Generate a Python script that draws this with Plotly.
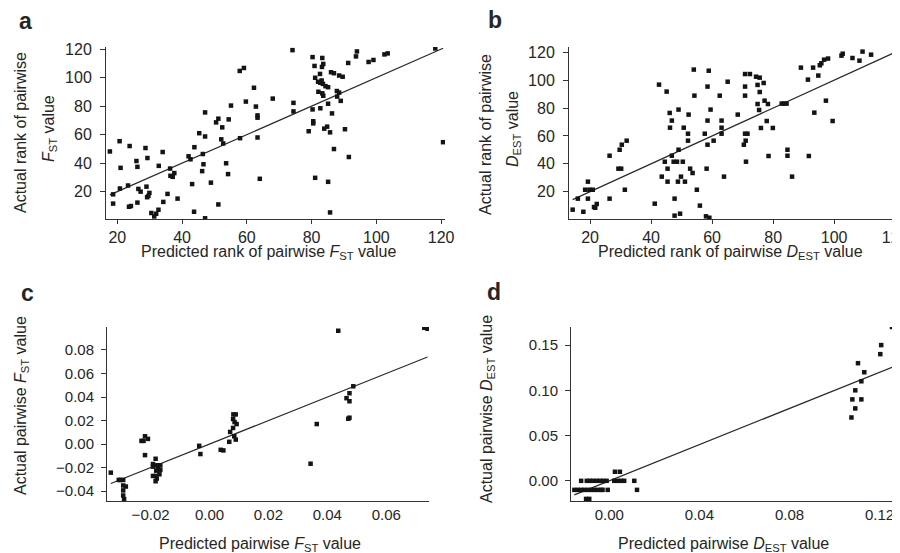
import plotly.graph_objects as go

# ---------------- data ----------------
a_pred = [17.7, 20.7, 21.0, 18.7, 18.7, 20.8, 23.3, 23.8, 23.6, 24.2, 25.9, 26.2, 26.5, 27.2, 26.2, 28.7, 29.3, 29.0, 29.2, 29.6,
          29.9, 30.5, 31.4, 32.0, 32.7, 32.8, 34.0, 34.2, 35.5, 36.3, 36.4, 37.1, 37.6, 38.6, 42.0, 42.6, 43.1, 43.7, 43.8, 45.3,
          46.4, 46.6, 46.2, 47.1, 47.1, 47.1, 48.9, 50.5, 51.2, 51.2, 52.1, 52.4, 52.7, 53.6, 54.2, 54.4, 55.1, 57.9, 57.8, 59.1,
          59.7, 62.2, 62.8, 63.3, 63.3, 63.3, 64.0, 68.0,
          74.1, 74.4, 74.4, 79.1, 80.3, 80.3, 80.5, 80.5, 80.9, 81.1, 81.1, 82.1, 82.0, 82.6, 82.7, 82.7, 83.1, 83.3, 83.2, 83.6,
          83.3, 83.6, 83.5, 83.9, 84.3, 84.8, 85.1, 85.1, 85.1, 85.7, 85.7, 86.0, 86.3, 86.9, 86.9, 87.8, 87.9, 88.5, 88.5, 89.0,
          89.6, 90.3, 91.3, 91.5, 93.7, 94.0, 97.6, 99.1, 102.5, 103.5, 118.2, 120.6]
a_actual = [48.2, 55.4, 36.7, 18.1, 11.6, 22.2, 24.3, 52.0, 9.4, 9.9, 41.5, 37.4, 21.9, 20.0, 12.3, 50.6, 43.6, 23.5, 16.1, 17.0,
            19.1, 5.0, 2.6, 4.5, 7.3, 38.1, 47.8, 12.8, 18.4, 36.2, 31.1, 30.4, 33.0, 15.1, 44.8, 42.7, 25.3, 5.9, 51.2, 61.0,
            46.4, 39.2, 34.4, 75.6, 58.7, 1.3, 26.3, 68.6, 71.2, 11.0, 56.7, 65.1, 53.8, 39.9, 32.3, 70.7, 80.4, 57.5, 104.7, 106.8,
            83.2, 92.9, 79.7, 73.5, 71.9, 58.0, 29.0, 85.3,
            119.3, 82.3, 76.3, 62.4, 114.4, 77.7, 69.4, 67.9, 108.2, 99.9, 29.7, 90.1, 97.1, 102.6, 78.5, 96.4, 98.0, 113.8, 107.5, 109.6,
            89.0, 87.3, 95.6, 64.2, 94.0, 65.6, 26.9, 93.3, 81.7, 61.6, 5.4, 103.8, 74.9, 49.9, 103.1, 90.6, 86.7, 89.5, 101.5, 83.7,
            100.6, 63.8, 110.3, 44.3, 114.9, 118.4, 111.0, 112.4, 116.3, 117.0, 120.5, 54.7]

b_pred = [14.3, 16.0, 17.8, 18.4, 19.3, 19.3, 19.8, 20.9, 21.3, 21.7, 22.2, 26.4, 26.4, 29.3, 30.2, 29.7, 30.4, 31.4, 32.0, 41.2,
          42.6, 43.5, 44.5, 45.1, 45.4, 45.4, 46.1, 46.2, 46.8, 46.8, 47.4, 47.7, 48.5, 48.8, 49.0, 49.0, 49.5, 47.7, 49.8, 50.4,
          50.7, 51.1, 52.1, 52.1, 52.3, 52.8, 53.6, 54.0, 54.2, 55.0, 56.0, 57.6, 58.0, 58.2, 58.5, 58.5, 58.5, 58.9, 59.1, 59.5,
          60.5, 62.5, 63.1, 63.1, 63.1, 63.9, 65.1, 68.4,
          70.4, 70.8, 70.8, 70.8, 70.8, 71.0, 71.1, 71.6, 72.4, 74.4, 74.9, 74.9, 75.4, 75.6, 75.6, 76.0, 76.9, 77.2, 77.9, 78.3,
          78.5, 79.9, 82.8, 83.6, 84.4, 84.7, 84.7, 86.2, 89.1, 91.4, 91.7, 93.1, 93.5, 94.8, 95.3, 95.8, 96.7, 98.0, 97.3, 99.5,
          102.4, 102.8, 106.0, 108.3, 109.3, 112.1, 124.0]
b_actual = [7.1, 15.0, 5.6, 21.4, 27.2, 15.0, 21.4, 21.4, 9.0, 8.5, 11.2, 45.8, 15.0, 36.5, 36.5, 50.1, 53.7, 21.4, 56.6, 11.4,
            96.8, 30.8, 41.5, 91.8, 36.5, 27.2, 76.5, 65.9, 71.0, 45.8, 41.5, 15.0, 41.5, 27.2, 50.1, 78.9, 4.2, 2.8, 30.8, 41.5,
            65.9, 27.2, 61.6, 56.6, 75.3, 36.5, 33.4, 107.6, 88.9, 21.4, 10.0, 61.6, 2.3, 36.5, 95.4, 71.0, 53.7, 106.8, 1.3, 78.9,
            56.6, 88.9, 71.0, 65.9, 61.6, 30.8, 98.9, 75.3,
            53.7, 104.4, 95.4, 88.9, 61.6, 56.6, 41.5, 61.6, 104.4, 102.5, 96.6, 82.9, 78.6, 101.8, 91.5, 65.7, 98.0, 85.3, 70.7, 82.9,
            45.6, 65.7, 83.2, 83.2, 83.2, 50.1, 45.8, 30.8, 109.0, 100.4, 45.6, 109.0, 76.7, 103.3, 110.7, 112.1, 114.7, 115.5, 85.3, 70.7,
            117.6, 119.0, 115.9, 114.0, 120.5, 118.3, 93.7]

c_pred = [-0.0335, -0.0308, -0.0302, -0.0293, -0.0293, -0.0284, -0.0293, -0.0293, -0.0290,
          -0.0231, -0.0224, -0.0219, -0.0209, -0.0219, -0.0183, -0.0192, -0.0183, -0.0174, -0.0167, -0.0192,
          -0.0183, -0.0181, -0.0175, -0.0167, -0.0170, -0.0183, -0.0179, -0.0192,
          -0.0035, -0.0031,
          0.0038, 0.0047, 0.0067, 0.0070, 0.0080, 0.0080, 0.0081, 0.0089, 0.0085, 0.0092, 0.0084, 0.0089,
          0.0343, 0.0364, 0.0437, 0.0465, 0.0475, 0.0475, 0.0471, 0.0475, 0.0488,
          0.0729, 0.0740]
c_actual = [-0.0243, -0.0305, -0.0305, -0.0305, -0.0352, -0.0361, -0.0394, -0.0437, -0.0468,
            0.0027, 0.0027, 0.0066, 0.0044, -0.0094, -0.0125, -0.0170, -0.0181, -0.0181, -0.0181, -0.0271,
            -0.0271, -0.0226, -0.0212, -0.0220, -0.0257, -0.0316, -0.0293, -0.0192,
            -0.0015, -0.0085,
            -0.0049, -0.0054, 0.0019, 0.0103, 0.0137, 0.0213, 0.0252, 0.0252, 0.0187, 0.0170, 0.0066, 0.0038,
            -0.0167, 0.0170, 0.0963, 0.0390, 0.0432, 0.0364, 0.0215, 0.0224, 0.0491,
            0.0988, 0.0980]

d_pred = [-0.0155, -0.0140, -0.0125, -0.0111, -0.0096, -0.0081, -0.0066, -0.0052, -0.0037, -0.0030, -0.0007, 0.0123,
          -0.0125, -0.0100, -0.0086, -0.0071, -0.0056, -0.0041, -0.0027, -0.0012, 0.0022, 0.0037, 0.0052, 0.0066, 0.0111,
          0.0025, 0.0047,
          -0.0103, -0.0089,
          0.1255, 0.1207, 0.1203, 0.1104, 0.1132, 0.1119, 0.1092, 0.1079, 0.1119, 0.1092, 0.1075]
d_actual = [-0.01] * 12 + [0.00] * 13 + [0.01] * 2 + [-0.02] * 2 + \
           [0.17, 0.15, 0.14, 0.13, 0.12, 0.11, 0.10, 0.09, 0.09, 0.08, 0.07]

a_ticks = [20, 40, 60, 80, 100, 120]
c_xticks = [-0.02, 0.00, 0.02, 0.04, 0.06]
c_yticks = [-0.04, -0.02, 0.00, 0.02, 0.04, 0.06, 0.08]
d_xticks = [0.00, 0.02, 0.04, 0.06, 0.08, 0.10, 0.12]
d_xticktext = ["0.00", "", "0.04", "", "0.08", "", "0.12"]
d_yticks = [0.00, 0.05, 0.10, 0.15]
d_yticktext = ["0.00", "0.05", "0.10", "0.15"]

# ---------------- figure ----------------
W, H = 900, 553
FONT = "Liberation Sans, Arial, Helvetica, sans-serif"
TXT = "#262626"
MK = "#141414"
AX = "#333333"

panels = [
    ("", a_pred, a_actual),
    ("2", b_pred, b_actual),
    ("3", c_pred, c_actual),
    ("4", d_pred, d_actual),
]

fig = go.Figure()
for suf, xs, ys in panels:
    lo, hi = min(xs), max(xs)
    fig.add_trace(go.Scatter(x=[lo, hi], y=[lo, hi], mode="lines",
                             line=dict(color="#2a2a2a", width=1.2),
                             xaxis="x" + suf, yaxis="y" + suf, hoverinfo="skip"))
    fig.add_trace(go.Scatter(x=xs, y=ys, mode="markers",
                             marker=dict(symbol="square", size=4.5, color=MK, line=dict(width=0)),
                             xaxis="x" + suf, yaxis="y" + suf))


def px_dom(a, b, total):
    return [a / total, b / total]


def ydom(top, bottom):
    return [1 - bottom / H, 1 - top / H]


def ax(size, **kw):
    d = dict(showline=True, linecolor=AX, linewidth=1, ticks="outside", ticklen=5,
             tickcolor=AX, tickwidth=1, showgrid=False, zeroline=False,
             tickfont=dict(family=FONT, size=size, color=TXT), automargin=False,
             ticklabeloverflow="allow")
    d.update(kw)
    return d


dom_a = px_dom(98, 437, W)
dom_b = px_dom(561, 900, W)
dom_c = px_dom(99, 421, W)
dom_d = px_dom(563, 884, W)
rng_c = [-0.0348, 0.0745]
rng_d = [-0.0170, 0.1255]

fig.update_layout(
    width=W, height=H,
    margin=dict(l=0, r=0, t=0, b=0),
    paper_bgcolor="white", plot_bgcolor="white",
    showlegend=False,
    font=dict(family=FONT, color=TXT),
    xaxis=ax(16, domain=dom_a, range=[16.5, 121.2], tickvals=a_ticks, anchor="y", ticklen=4),
    yaxis=ax(16, domain=ydom(39, 211), range=[0.8, 121.5], tickvals=a_ticks, anchor="x", ticklabelstandoff=5),
    xaxis2=ax(16, domain=dom_b, range=[13.1, 124.2], tickvals=a_ticks, anchor="y2", ticklen=4),
    yaxis2=ax(16, domain=ydom(39, 211), range=[0.4, 123.8], tickvals=a_ticks, anchor="x2", ticklabelstandoff=5),
    # panel c / d: labelled axes without tick marks, tick marks drawn by overlay axes below
    xaxis3=ax(15, domain=dom_c, range=rng_c, tickvals=c_xticks, tickformat=".2f", anchor="y3", ticks=""),
    yaxis3=ax(15, domain=ydom(319, 493), range=[-0.0484, 0.0995], tickvals=c_yticks, tickformat=".2f",
              anchor="x3", ticklabelstandoff=4),
    xaxis4=ax(15, domain=dom_d, range=rng_d, tickvals=d_xticks, ticktext=d_xticktext, anchor="y4", ticks=""),
    yaxis4=ax(15, domain=ydom(319, 493), range=[-0.0223, 0.1700], tickvals=d_yticks, ticktext=d_yticktext,
              anchor="x4", ticklabelstandoff=4),
    xaxis5=ax(15, domain=dom_c, range=rng_c, tickvals=c_xticks, anchor="y3", overlaying="x3",
              showticklabels=False, showline=False, ticklen=4),
    xaxis6=ax(15, domain=dom_d, range=rng_d, tickvals=d_xticks, anchor="y4", overlaying="x4",
              showticklabels=False, showline=False, ticklen=4),
)


def ann(text, x, y, size=16, angle=0, bold=False):
    if bold:
        text = "<b>" + text + "</b>"
    fig.add_annotation(text=text, x=x / W, y=1 - y / H, xref="paper", yref="paper",
                       xanchor="center", yanchor="middle", showarrow=False, textangle=angle,
                       font=dict(family=FONT, size=size, color=TXT))


# panel letters
ann("a", 17, 13, size=23, bold=True)
ann("b", 487, 12, size=23, bold=True)
ann("c", 19, 285, size=23, bold=True)
ann("d", 486, 284, size=23, bold=True)

# axis titles
ann("Actual rank of pairwise", 12, 125, angle=-90)
ann("<i>F</i><sub>ST</sub> value", 41, 121, angle=-90)
ann("Predicted rank of pairwise <i>F</i><sub>ST</sub> value", 260, 244)

ann("Actual rank of pairwise", 477, 127, angle=-90)
ann("<i>D</i><sub>EST</sub> value", 505, 121, angle=-90)
ann("Predicted rank of pairwise <i>D</i><sub>EST</sub> value", 722, 244)

ann("Actual pairwise <i>F</i><sub>ST</sub> value", 13, 398, angle=-90)
ann("Predicted pairwise <i>F</i><sub>ST</sub> value", 252, 536)

ann("Actual pairwise <i>D</i><sub>EST</sub> value", 479, 401, angle=-90)
ann("Predicted pairwise <i>D</i><sub>EST</sub> value", 715, 536)

fig.write_html("out.html")
